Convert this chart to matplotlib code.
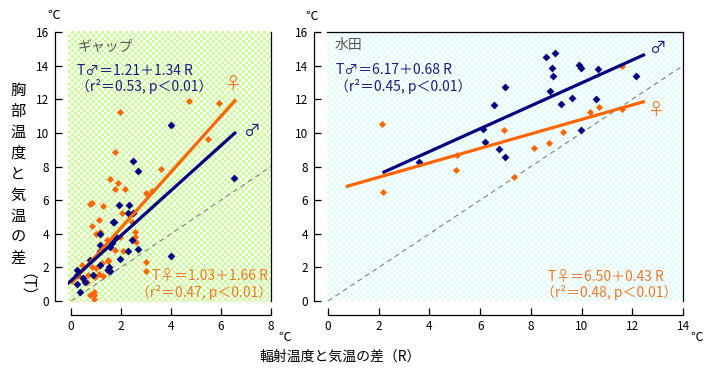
import numpy as np
import matplotlib
matplotlib.use('Agg')
import matplotlib.pyplot as plt
from matplotlib.colors import to_rgb

plt.rcParams['font.family'] = ['Noto Sans CJK JP', 'DejaVu Sans']

# ---------------- data ----------------
gap_male_R = [3.99, 2.47, 2.67, 6.52, 4.00, 1.93, 2.33, 2.27, 2.47, 1.73, 1.16, 1.76, 2.43,
              1.63, 1.56, 2.29, 2.69, 1.16, 1.96, 0.76, 1.16, 1.53, 1.49, 1.56, 0.23, 0.89,
              0.49, 0.56, 0.23, 0.36, 1.76, 1.16, 0.23, 1.69]
gap_male_T = [10.48, 8.35, 7.76, 7.32, 2.70, 5.71, 5.71, 5.26, 5.22, 4.72, 3.97, 3.87, 3.63,
              3.43, 3.23, 3.00, 3.08, 3.00, 2.50, 2.46, 2.17, 2.00, 1.85, 1.79, 1.55, 1.55,
              1.35, 1.15, 0.99, 0.55, 3.77, 3.33, 1.85, 4.72]
gap_female_R = [1.96, 4.71, 5.91, 5.49, 1.76, 3.59, 1.56, 1.89, 1.76, 2.16, 3.00, 3.23, 0.83,
                0.76, 1.27, 2.03, 0.83, 1.13, 2.43, 1.16, 1.00, 1.43, 2.56, 2.56, 2.60, 2.07,
                1.76, 1.49, 3.00, 3.00, 1.23, 1.00, 1.43, 1.13, 0.43, 0.69, 0.43, 1.29, 0.96,
                0.63, 0.92, 0.76, 0.93, 0.93, 0.83, 1.96, 1.47]
gap_female_T = [11.27, 11.92, 11.79, 9.64, 8.89, 7.86, 7.24, 7.04, 6.65, 6.65, 6.45, 6.55, 5.81,
                5.75, 5.67, 5.26, 4.46, 4.82, 4.72, 4.13, 3.99, 3.63, 4.13, 3.83, 3.53, 2.98,
                3.04, 2.40, 2.34, 1.80, 2.24, 1.95, 1.85, 1.60, 2.14, 1.55, 1.35, 1.49, 1.45,
                1.15, 0.56, 0.36, 0.36, 0.10, 2.02, 3.83, 2.44]

pad_male_R = [8.58, 8.95, 8.84, 8.86, 6.97, 6.55, 8.74, 9.90, 9.98, 10.63, 12.15, 9.18, 9.61,
              10.58, 6.10, 9.96, 6.19, 6.74, 6.98, 3.59]
pad_male_T = [14.52, 14.73, 13.85, 13.37, 12.70, 11.66, 12.50, 14.05, 13.85, 13.80, 13.40,
              11.70, 12.06, 12.00, 10.25, 10.17, 9.47, 9.05, 8.58, 8.26]
pad_female_R = [2.12, 6.93, 11.58, 10.33, 10.69, 11.59, 9.25, 8.70, 8.11, 5.07, 5.05, 2.16, 7.33]
pad_female_T = [10.53, 10.17, 13.99, 11.27, 11.54, 11.44, 10.05, 9.38, 9.13, 8.67, 7.82, 6.51, 7.36]

# regression coefficients (intercept, slope) and fitted ranges
gap_male_fit = (1.21, 1.34)
gap_female_fit = (1.03, 1.66)
pad_male_fit = (6.17, 0.68)
pad_female_fit = (6.50, 0.43)
gap_male_range = (-0.15, 6.6)
gap_female_range = (0.0, 6.6)
pad_male_range = (2.15, 12.5)
pad_female_range = (0.7, 12.5)

gap_xticks = [0, 2, 4, 6, 8]
pad_xticks = [0, 2, 4, 6, 8, 10, 12, 14]
yticks = [0, 2, 4, 6, 8, 10, 12, 14, 16]

# ---------------- style ----------------
W, H = 719, 377
NAVY = '#000080'
ORANGE = '#ff6600'
NAVY_T = '#1a1a80'
ORANGE_T = '#f07828'
GRAY_T = '#555555'

fig = plt.figure(figsize=(W / 100, H / 100), dpi=100)


def px_axes(x0, x1, ytop, ybot):
    return fig.add_axes([x0 / W, 1 - ybot / H, (x1 - x0) / W, (ybot - ytop) / H])


def ftext(x, y, s, **kw):
    fig.text(x / W, 1 - y / H, s, **kw)


def checker(x0, x1, ytop, ybot, col, cell=3):
    w, h = x1 - x0, ybot - ytop
    ii, jj = np.indices((h, w))
    mask = ((ii // cell + jj // cell) % 2).astype(bool)
    img = np.ones((h, w, 3))
    img[mask] = to_rgb(col)
    fig.figimage(img, xo=x0, yo=H - ybot, origin='upper', zorder=0)


def setup(ax, xlim, xticks, top_spine):
    ax.set_zorder(2)
    ax.patch.set_visible(False)
    ax.set_xlim(*xlim)
    ax.set_ylim(0, 16)
    ax.set_xticks(xticks)
    ax.set_yticks(yticks)
    ax.set_xticklabels([str(t) for t in xticks])
    ax.set_yticklabels([str(t) for t in yticks])
    ax.spines['left'].set_position(('outward', 9.5))
    ax.spines['bottom'].set_position(('outward', 10))
    ax.spines['left'].set_bounds(0, 16)
    ax.spines['bottom'].set_bounds(xticks[0], xticks[-1])
    ax.spines['top'].set_visible(top_spine)
    for s in ax.spines.values():
        s.set_linewidth(0.9)
        s.set_color('black')
    ax.xaxis.set_ticks_position('bottom')
    ax.yaxis.set_ticks_position('left')
    ax.tick_params(direction='in', length=5, width=0.9, labelsize=8.5, pad=4)


def fitline(ax, fit, rng, color):
    xs = np.array(rng)
    ax.plot(xs, fit[0] + fit[1] * xs, color=color, lw=2.3, solid_capstyle='butt', zorder=4)


# backgrounds (checker pattern)
checker(68, 271, 31, 302, '#ccff99')
checker(327, 683, 32, 301, '#e2fcfc')

# left panel (gap)
ax1 = px_axes(68, 271, 32, 301)
setup(ax1, (-0.12, 8), gap_xticks, False)
ax1.plot([0, 8], [0, 8], color='#808080', lw=0.8, dashes=(4.5, 3.5), zorder=2)
ax1.scatter(gap_female_R, gap_female_T, marker='D', s=13, color=ORANGE, linewidths=0, zorder=3)
ax1.scatter(gap_male_R, gap_male_T, marker='D', s=16, color=NAVY, linewidths=0, zorder=3)
fitline(ax1, gap_female_fit, gap_female_range, ORANGE)
fitline(ax1, gap_male_fit, gap_male_range, NAVY)

# right panel (paddy)
ax2 = px_axes(327, 683, 32, 301)
setup(ax2, (-0.04, 14), pad_xticks, True)
ax2.plot([0, 14], [0, 14], color='#808080', lw=0.8, dashes=(4.5, 3.5), zorder=2)
ax2.scatter(pad_female_R, pad_female_T, marker='D', s=13, color=ORANGE, linewidths=0, zorder=3)
ax2.scatter(pad_male_R, pad_male_T, marker='D', s=16, color=NAVY, linewidths=0, zorder=3)
fitline(ax2, pad_male_fit, pad_male_range, NAVY)
fitline(ax2, pad_female_fit, pad_female_range, ORANGE)

fs = 10
# annotations left
ftext(78, 47, 'ギャップ', color=GRAY_T, fontsize=fs, va='center', ha='left', zorder=5)
ftext(77, 71, 'T♂＝1.21＋1.34 R', color=NAVY_T, fontsize=fs, va='center', ha='left', zorder=5)
ftext(76, 87, '（r²＝0.53, p＜0.01）', color=NAVY_T, fontsize=fs, va='center', ha='left', zorder=5)
ftext(233, 84, '♀', color=ORANGE_T, fontsize=12, va='center', ha='center', zorder=5)
ftext(251, 131, '♂', color=NAVY_T, fontsize=12, va='center', ha='center', zorder=5)
ftext(268, 276, 'T♀＝1.03＋1.66 R', color=ORANGE_T, fontsize=fs, va='center', ha='right', zorder=5)
ftext(272, 293, '（r²＝0.47, p＜0.01）', color=ORANGE_T, fontsize=fs, va='center', ha='right', zorder=5)

# annotations right
ftext(335, 45, '水田', color=GRAY_T, fontsize=fs, va='center', ha='left', zorder=5)
ftext(336, 70, 'T♂＝6.17＋0.68 R', color=NAVY_T, fontsize=fs, va='center', ha='left', zorder=5)
ftext(335, 86, '（r²＝0.45, p＜0.01）', color=NAVY_T, fontsize=fs, va='center', ha='left', zorder=5)
ftext(657, 48, '♂', color=NAVY_T, fontsize=12, va='center', ha='center', zorder=5)
ftext(656, 110, '♀', color=ORANGE_T, fontsize=12, va='center', ha='center', zorder=5)
ftext(664, 277, 'T♀＝6.50＋0.43 R', color=ORANGE_T, fontsize=fs, va='center', ha='right', zorder=5)
ftext(677, 293, '（r²＝0.48, p＜0.01）', color=ORANGE_T, fontsize=fs, va='center', ha='right', zorder=5)

# units
ftext(54, 15, '℃', fontsize=9, va='center', ha='center')
ftext(312, 16, '℃', fontsize=9, va='center', ha='center')
ftext(285, 337, '℃', fontsize=9, va='center', ha='center')
ftext(697, 337, '℃', fontsize=9, va='center', ha='center')

# axis labels
ftext(340, 357, '輻射温度と気温の差（R）', fontsize=10, va='center', ha='center')
ylab_chars = list('胸部温度と気温の差')
for i, ch in enumerate(ylab_chars):
    ftext(18, 90 + i * 21, ch, fontsize=11, va='center', ha='center')
ftext(18, 90 + len(ylab_chars) * 21 + 14, '（T）', fontsize=11, va='center', ha='center',
      rotation=-90)

fig.savefig('out.png', dpi=100)
